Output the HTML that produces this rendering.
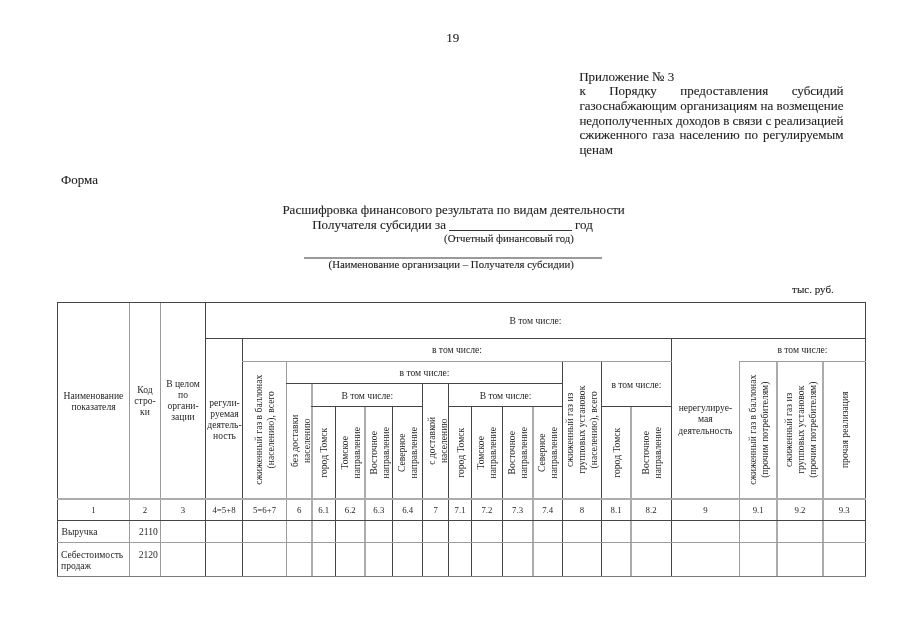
<!DOCTYPE html>
<html><head><meta charset="utf-8"><style>
html,body{margin:0;padding:0;background:#fff;}
#p{filter:grayscale(1);position:relative;width:905px;height:640px;overflow:hidden;background:#fff;}
.l{position:absolute;}
.t{position:absolute;font-family:"Liberation Serif",serif;color:#262626;white-space:nowrap;}
.b{color:#222;-webkit-text-stroke:0.1px #222;}
.v{text-align:center;transform:rotate(-90deg);transform-origin:50% 50%;}
.j{display:flex;justify-content:space-between;}
</style></head><body><div id="p">
<div class="l" style="left:57px;top:302px;width:1px;height:275px;background:#454545"></div>
<div class="l" style="left:129px;top:302px;width:1px;height:275px;background:#9c9c9c"></div>
<div class="l" style="left:160px;top:302px;width:1px;height:275px;background:#9c9c9c"></div>
<div class="l" style="left:205px;top:302px;width:1px;height:275px;background:#454545"></div>
<div class="l" style="left:242px;top:338px;width:1px;height:239px;background:#454545"></div>
<div class="l" style="left:286px;top:361px;width:1px;height:216px;background:#9c9c9c"></div>
<div class="l" style="left:311px;top:383px;width:2px;height:194px;background:#acacac"></div>
<div class="l" style="left:335px;top:406px;width:1px;height:171px;background:#454545"></div>
<div class="l" style="left:364px;top:406px;width:2px;height:171px;background:#acacac"></div>
<div class="l" style="left:392px;top:406px;width:1px;height:171px;background:#454545"></div>
<div class="l" style="left:422px;top:383px;width:1px;height:194px;background:#454545"></div>
<div class="l" style="left:448px;top:383px;width:1px;height:194px;background:#454545"></div>
<div class="l" style="left:471px;top:406px;width:1px;height:171px;background:#454545"></div>
<div class="l" style="left:502px;top:406px;width:1px;height:171px;background:#454545"></div>
<div class="l" style="left:532px;top:406px;width:2px;height:171px;background:#acacac"></div>
<div class="l" style="left:562px;top:361px;width:1px;height:216px;background:#454545"></div>
<div class="l" style="left:601px;top:361px;width:1px;height:216px;background:#454545"></div>
<div class="l" style="left:630px;top:406px;width:2px;height:171px;background:#acacac"></div>
<div class="l" style="left:671px;top:338px;width:1px;height:239px;background:#454545"></div>
<div class="l" style="left:739px;top:361px;width:1px;height:216px;background:#9c9c9c"></div>
<div class="l" style="left:776px;top:361px;width:2px;height:216px;background:#acacac"></div>
<div class="l" style="left:822px;top:361px;width:2px;height:216px;background:#acacac"></div>
<div class="l" style="left:865px;top:302px;width:1px;height:275px;background:#454545"></div>
<div class="l" style="left:57px;top:302px;width:809px;height:1px;background:#454545"></div>
<div class="l" style="left:205px;top:338px;width:661px;height:1px;background:#454545"></div>
<div class="l" style="left:242px;top:361px;width:430px;height:1px;background:#9c9c9c"></div>
<div class="l" style="left:739px;top:361px;width:127px;height:1px;background:#9c9c9c"></div>
<div class="l" style="left:286px;top:383px;width:277px;height:1px;background:#454545"></div>
<div class="l" style="left:311px;top:406px;width:112px;height:1px;background:#454545"></div>
<div class="l" style="left:448px;top:406px;width:115px;height:1px;background:#454545"></div>
<div class="l" style="left:601px;top:406px;width:71px;height:1px;background:#454545"></div>
<div class="l" style="left:57px;top:498px;width:809px;height:2px;background:#acacac"></div>
<div class="l" style="left:57px;top:520px;width:809px;height:1px;background:#454545"></div>
<div class="l" style="left:57px;top:542px;width:809px;height:1px;background:#9c9c9c"></div>
<div class="l" style="left:57px;top:576px;width:809px;height:1px;background:#7a7a7a"></div>
<div class="t " style="left:-206.5px;width:600px;text-align:center;top:390.19px;font-size:9.6px;line-height:11.52px;">Наименование</div>
<div class="t " style="left:-206.5px;width:600px;text-align:center;top:401.19px;font-size:9.6px;line-height:11.52px;">показателя</div>
<div class="t " style="left:-155.0px;width:600px;text-align:center;top:383.89px;font-size:9.6px;line-height:11.52px;">Код</div>
<div class="t " style="left:-155.0px;width:600px;text-align:center;top:394.89px;font-size:9.6px;line-height:11.52px;">стро-</div>
<div class="t " style="left:-155.0px;width:600px;text-align:center;top:405.89px;font-size:9.6px;line-height:11.52px;">ки</div>
<div class="t " style="left:-117.0px;width:600px;text-align:center;top:378.39px;font-size:9.6px;line-height:11.52px;">В целом</div>
<div class="t " style="left:-117.0px;width:600px;text-align:center;top:389.39px;font-size:9.6px;line-height:11.52px;">по</div>
<div class="t " style="left:-117.0px;width:600px;text-align:center;top:400.39px;font-size:9.6px;line-height:11.52px;">органи-</div>
<div class="t " style="left:-117.0px;width:600px;text-align:center;top:411.39px;font-size:9.6px;line-height:11.52px;">зации</div>
<div class="t " style="left:-75.5px;width:600px;text-align:center;top:396.94px;font-size:9.6px;line-height:11.52px;">регули-</div>
<div class="t " style="left:-75.5px;width:600px;text-align:center;top:407.94px;font-size:9.6px;line-height:11.52px;">руемая</div>
<div class="t " style="left:-75.5px;width:600px;text-align:center;top:418.94px;font-size:9.6px;line-height:11.52px;">деятель-</div>
<div class="t " style="left:-75.5px;width:600px;text-align:center;top:429.94px;font-size:9.6px;line-height:11.52px;">ность</div>
<div class="t " style="left:235.45000000000005px;width:600px;text-align:center;top:314.80px;font-size:9.6px;line-height:11.52px;">В том числе:</div>
<div class="t " style="left:156.95px;width:600px;text-align:center;top:344.00px;font-size:9.6px;line-height:11.52px;">в том числе:</div>
<div class="t " style="left:502.4px;width:600px;text-align:center;top:344.00px;font-size:9.6px;line-height:11.52px;">в том числе:</div>
<div class="t " style="left:124.5px;width:600px;text-align:center;top:367.10px;font-size:9.6px;line-height:11.52px;">в том числе:</div>
<div class="t " style="left:336.4px;width:600px;text-align:center;top:378.50px;font-size:9.6px;line-height:11.52px;">в том числе:</div>
<div class="t " style="left:67.35000000000002px;width:600px;text-align:center;top:390.10px;font-size:9.6px;line-height:11.52px;">В том числе:</div>
<div class="t " style="left:205.60000000000002px;width:600px;text-align:center;top:390.10px;font-size:9.6px;line-height:11.52px;">В том числе:</div>
<div class="t " style="left:405.4px;width:600px;text-align:center;top:401.64px;font-size:9.6px;line-height:11.52px;">нерегулируе-</div>
<div class="t " style="left:405.4px;width:600px;text-align:center;top:413.14px;font-size:9.6px;line-height:11.52px;">мая</div>
<div class="t " style="left:405.4px;width:600px;text-align:center;top:424.64px;font-size:9.6px;line-height:11.52px;">деятельность</div>
<div class="t v" style="left:159.00px;top:424.44px;width:200px;height:11.52px;font-size:9.6px;line-height:11.52px;">сжиженный газ в баллонах</div>
<div class="t v" style="left:171.00px;top:424.44px;width:200px;height:11.52px;font-size:9.6px;line-height:11.52px;">(населению), всего</div>
<div class="t v" style="left:195.25px;top:435.34px;width:200px;height:11.52px;font-size:9.6px;line-height:11.52px;">без доставки</div>
<div class="t v" style="left:207.25px;top:435.34px;width:200px;height:11.52px;font-size:9.6px;line-height:11.52px;">населению</div>
<div class="t v" style="left:224.25px;top:446.99px;width:200px;height:11.52px;font-size:9.6px;line-height:11.52px;">город Томск</div>
<div class="t v" style="left:244.75px;top:446.99px;width:200px;height:11.52px;font-size:9.6px;line-height:11.52px;">Томское</div>
<div class="t v" style="left:256.75px;top:446.99px;width:200px;height:11.52px;font-size:9.6px;line-height:11.52px;">направление</div>
<div class="t v" style="left:274.05px;top:446.99px;width:200px;height:11.52px;font-size:9.6px;line-height:11.52px;">Восточное</div>
<div class="t v" style="left:286.05px;top:446.99px;width:200px;height:11.52px;font-size:9.6px;line-height:11.52px;">направление</div>
<div class="t v" style="left:302.20px;top:446.99px;width:200px;height:11.52px;font-size:9.6px;line-height:11.52px;">Северное</div>
<div class="t v" style="left:314.20px;top:446.99px;width:200px;height:11.52px;font-size:9.6px;line-height:11.52px;">направление</div>
<div class="t v" style="left:332.00px;top:435.34px;width:200px;height:11.52px;font-size:9.6px;line-height:11.52px;">с доставкой</div>
<div class="t v" style="left:344.00px;top:435.34px;width:200px;height:11.52px;font-size:9.6px;line-height:11.52px;">населению</div>
<div class="t v" style="left:360.60px;top:446.99px;width:200px;height:11.52px;font-size:9.6px;line-height:11.52px;">город Томск</div>
<div class="t v" style="left:381.40px;top:446.99px;width:200px;height:11.52px;font-size:9.6px;line-height:11.52px;">Томское</div>
<div class="t v" style="left:393.40px;top:446.99px;width:200px;height:11.52px;font-size:9.6px;line-height:11.52px;">направление</div>
<div class="t v" style="left:412.05px;top:446.99px;width:200px;height:11.52px;font-size:9.6px;line-height:11.52px;">Восточное</div>
<div class="t v" style="left:424.05px;top:446.99px;width:200px;height:11.52px;font-size:9.6px;line-height:11.52px;">направление</div>
<div class="t v" style="left:442.15px;top:446.99px;width:200px;height:11.52px;font-size:9.6px;line-height:11.52px;">Северное</div>
<div class="t v" style="left:454.15px;top:446.99px;width:200px;height:11.52px;font-size:9.6px;line-height:11.52px;">направление</div>
<div class="t v" style="left:470.45px;top:424.44px;width:200px;height:11.52px;font-size:9.6px;line-height:11.52px;">сжиженный газ из</div>
<div class="t v" style="left:482.45px;top:424.44px;width:200px;height:11.52px;font-size:9.6px;line-height:11.52px;">групповых установок</div>
<div class="t v" style="left:494.45px;top:424.44px;width:200px;height:11.52px;font-size:9.6px;line-height:11.52px;">(населению), всего</div>
<div class="t v" style="left:516.60px;top:446.99px;width:200px;height:11.52px;font-size:9.6px;line-height:11.52px;">город Томск</div>
<div class="t v" style="left:545.60px;top:446.99px;width:200px;height:11.52px;font-size:9.6px;line-height:11.52px;">Восточное</div>
<div class="t v" style="left:557.60px;top:446.99px;width:200px;height:11.52px;font-size:9.6px;line-height:11.52px;">направление</div>
<div class="t v" style="left:652.70px;top:424.44px;width:200px;height:11.52px;font-size:9.6px;line-height:11.52px;">сжиженный газ в баллонах</div>
<div class="t v" style="left:664.70px;top:424.44px;width:200px;height:11.52px;font-size:9.6px;line-height:11.52px;">(прочим потребителям)</div>
<div class="t v" style="left:688.50px;top:424.44px;width:200px;height:11.52px;font-size:9.6px;line-height:11.52px;">сжиженный газ из</div>
<div class="t v" style="left:700.50px;top:424.44px;width:200px;height:11.52px;font-size:9.6px;line-height:11.52px;">групповых установок</div>
<div class="t v" style="left:712.50px;top:424.44px;width:200px;height:11.52px;font-size:9.6px;line-height:11.52px;">(прочим потребителям)</div>
<div class="t v" style="left:744.70px;top:424.44px;width:200px;height:11.52px;font-size:9.6px;line-height:11.52px;">прочая реализация</div>
<div class="t " style="left:-206.5px;width:600px;text-align:center;top:504.55px;font-size:8.8px;line-height:10.56px;">1</div>
<div class="t " style="left:-155.0px;width:600px;text-align:center;top:504.55px;font-size:8.8px;line-height:10.56px;">2</div>
<div class="t " style="left:-117.0px;width:600px;text-align:center;top:504.55px;font-size:8.8px;line-height:10.56px;">3</div>
<div class="t " style="left:-76.0px;width:600px;text-align:center;top:504.55px;font-size:8.8px;line-height:10.56px;">4=5+8</div>
<div class="t " style="left:-35.5px;width:600px;text-align:center;top:504.55px;font-size:8.8px;line-height:10.56px;">5=6+7</div>
<div class="t " style="left:-0.75px;width:600px;text-align:center;top:504.55px;font-size:8.8px;line-height:10.56px;">6</div>
<div class="t " style="left:23.75px;width:600px;text-align:center;top:504.55px;font-size:8.8px;line-height:10.56px;">6.1</div>
<div class="t " style="left:50.25px;width:600px;text-align:center;top:504.55px;font-size:8.8px;line-height:10.56px;">6.2</div>
<div class="t " style="left:78.85000000000002px;width:600px;text-align:center;top:504.55px;font-size:8.8px;line-height:10.56px;">6.3</div>
<div class="t " style="left:107.69999999999999px;width:600px;text-align:center;top:504.55px;font-size:8.8px;line-height:10.56px;">6.4</div>
<div class="t " style="left:135.7px;width:600px;text-align:center;top:504.55px;font-size:8.8px;line-height:10.56px;">7</div>
<div class="t " style="left:160.10000000000002px;width:600px;text-align:center;top:504.55px;font-size:8.8px;line-height:10.56px;">7.1</div>
<div class="t " style="left:186.89999999999998px;width:600px;text-align:center;top:504.55px;font-size:8.8px;line-height:10.56px;">7.2</div>
<div class="t " style="left:217.54999999999995px;width:600px;text-align:center;top:504.55px;font-size:8.8px;line-height:10.56px;">7.3</div>
<div class="t " style="left:247.64999999999998px;width:600px;text-align:center;top:504.55px;font-size:8.8px;line-height:10.56px;">7.4</div>
<div class="t " style="left:281.95000000000005px;width:600px;text-align:center;top:504.55px;font-size:8.8px;line-height:10.56px;">8</div>
<div class="t " style="left:316.0999999999999px;width:600px;text-align:center;top:504.55px;font-size:8.8px;line-height:10.56px;">8.1</div>
<div class="t " style="left:351.0999999999999px;width:600px;text-align:center;top:504.55px;font-size:8.8px;line-height:10.56px;">8.2</div>
<div class="t " style="left:405.4px;width:600px;text-align:center;top:504.55px;font-size:8.8px;line-height:10.56px;">9</div>
<div class="t " style="left:458.20000000000005px;width:600px;text-align:center;top:504.55px;font-size:8.8px;line-height:10.56px;">9.1</div>
<div class="t " style="left:500.0px;width:600px;text-align:center;top:504.55px;font-size:8.8px;line-height:10.56px;">9.2</div>
<div class="t " style="left:544.2px;width:600px;text-align:center;top:504.55px;font-size:8.8px;line-height:10.56px;">9.3</div>
<div class="t " style="left:61.5px;top:526.20px;font-size:9.6px;line-height:11.52px;">Выручка</div>
<div class="t " style="left:-442.2px;width:600px;text-align:right;top:526.20px;font-size:9.6px;line-height:11.52px;">2110</div>
<div class="t " style="left:61.0px;top:548.70px;font-size:9.6px;line-height:11.52px;">Себестоимость</div>
<div class="t " style="left:61.0px;top:559.60px;font-size:9.6px;line-height:11.52px;">продаж</div>
<div class="t " style="left:-442.2px;width:600px;text-align:right;top:548.70px;font-size:9.6px;line-height:11.52px;">2120</div>
<div class="t b" style="left:152.8px;width:600px;text-align:center;top:29.71px;font-size:13px;line-height:15.60px;">19</div>
<div class="t b" style="left:579.2px;top:68.71px;font-size:13px;line-height:15.60px;">Приложение № 3</div>
<div class="t j b" style="left:579.4px;width:264.2px;top:82.81px;font-size:13px;line-height:15.60px"><span>к</span><span>Порядку</span><span>предоставления</span><span>субсидий</span></div>
<div class="t j b" style="left:579.4px;width:264.2px;top:97.61px;font-size:13px;line-height:15.60px"><span>газоснабжающим</span><span>организациям</span><span>на</span><span>возмещение</span></div>
<div class="t j b" style="left:579.4px;width:264.2px;top:112.51px;font-size:13px;line-height:15.60px"><span>недополученных</span><span>доходов</span><span>в</span><span>связи</span><span>с</span><span>реализацией</span></div>
<div class="t j b" style="left:579.4px;width:264.2px;top:127.31px;font-size:13px;line-height:15.60px"><span>сжиженного</span><span>газа</span><span>населению</span><span>по</span><span>регулируемым</span></div>
<div class="t b" style="left:579.4px;top:142.01px;font-size:13px;line-height:15.60px;">ценам</div>
<div class="t b" style="left:61.0px;top:171.81px;font-size:13px;line-height:15.60px;">Форма</div>
<div class="t b" style="left:282.4px;top:202.11px;font-size:13px;line-height:15.60px;">Расшифровка финансового результата по видам деятельности</div>
<div class="t b" style="left:312.2px;top:216.61px;font-size:13px;line-height:15.60px;">Получателя субсидии за</div>
<div class="l" style="left:449px;top:230px;width:123px;height:1px;background:#333"></div>
<div class="t b" style="left:575.0px;top:216.61px;font-size:13px;line-height:15.60px;">год</div>
<div class="t b" style="left:-26.200000000000045px;width:600px;text-align:right;top:231.57px;font-size:10.7px;line-height:12.84px;">(Отчетный финансовый год)</div>
<div class="l" style="left:304px;top:257px;width:298px;height:2px;background:#9a9a9a"></div>
<div class="t b" style="left:-26.200000000000045px;width:600px;text-align:right;top:258.07px;font-size:10.8px;line-height:12.96px;">(Наименование организации – Получателя субсидии)</div>
<div class="t b" style="left:792.1px;top:283.39px;font-size:11px;line-height:13.20px;">тыс. руб.</div>
</div></body></html>
